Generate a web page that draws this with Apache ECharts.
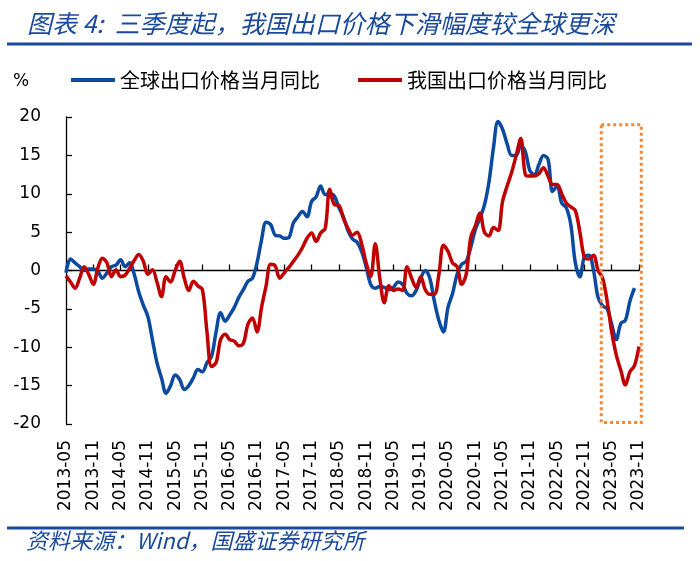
<!DOCTYPE html>
<html>
<head>
<meta charset="utf-8">
<script src="https://cdn.jsdelivr.net/npm/echarts@6/dist/echarts.min.js"></script>
<style>
html,body{margin:0;padding:0;background:#fff;}
#chart{width:700px;height:561px;}
</style>
</head>
<body>
<div id="chart"></div>
<script>
// ---- data ----
var startYear = 2013, startMonth = 5, monthCount = 127;
var categories = [];
for (var i = 0; i < monthCount; i++) {
  var mm = startMonth - 1 + i;
  var y = startYear + Math.floor(mm / 12);
  var m = (mm % 12) + 1;
  categories.push(y + '-' + (m < 10 ? '0' + m : m));
}
var seriesNames = ['全球出口价格当月同比', '我国出口价格当月同比'];
var globalYoY = [
  -0.3, 1.5, 1.0, 0.5, 0.0, 0.2, 0.2, -0.1, -1.0, -0.3, 0.5, 0.7,
  1.4, 0.5, 1.0, -0.5, -2.8, -4.5, -6.0, -9.0, -12.0, -14.0, -16.0, -15.0,
  -13.6, -14.2, -15.5, -15.0, -14.0, -12.9, -13.2, -12.0, -11.2, -8.0, -5.5, -6.6,
  -5.8, -4.8, -3.5, -2.5, -1.4, -1.0, 1.0, 4.0, 6.3, 6.0, 4.6, 4.5,
  4.2, 4.3, 6.2, 7.0, 7.7, 7.0, 9.0, 9.6, 11.0, 9.9, 10.0, 9.7,
  8.2, 7.0, 5.2, 4.1, 3.7, 2.5, 0.5, -1.8, -2.3, -2.1, -2.2, -2.5,
  -2.2, -1.5, -1.8, -3.0, -3.3, -2.6, -1.0, 0.0, -1.0, -4.0, -6.5, -8.0,
  -4.8, -3.0, -0.5, 0.8, 1.2, 3.0, 5.3, 6.8, 8.5, 11.5, 16.0, 19.4,
  18.4, 16.5, 15.0, 15.0, 16.3, 15.5, 13.0, 12.5, 13.8, 15.0, 14.5, 10.3,
  11.0, 8.8, 8.2, 6.0, 1.0, -0.8, 1.8, 2.0, 0.0, -3.5, -4.6, -5.0,
  -7.0, -9.0, -6.9, -6.5, -4.0, -2.3
];
var chinaYoY = [
  -0.7, -1.5, -2.3, -1.0, 0.5, -0.5, -1.8, 0.3, 1.6, 1.0, -0.8, 0.1,
  -0.8, -0.6, 0.3, 1.3, 2.1, 1.2, -0.5, 0.1, -1.5, -3.4, -0.8, -1.5,
  0.0, 1.2, -1.0, -2.6, -1.4, -2.0, -2.5, -8.0, -12.5, -12.0, -9.0, -8.3,
  -9.0, -9.2, -9.8, -9.5, -7.0, -6.2, -8.0, -4.8, -2.0, 0.8, 0.6, -1.0,
  -0.3, 0.4, 1.2, 2.0, 3.0, 4.2, 4.9, 3.8, 4.9, 5.5, 10.6, 8.6,
  8.5, 6.8, 5.5, 4.6, 5.0, 3.5, 1.0, -0.8, 3.5, -1.0, -4.2, -2.0,
  -2.6, -2.4, -2.6, 0.5, -1.0, -2.2, -0.8, -2.5, -3.1, -3.1, -0.5, 3.3,
  2.5, 1.0, 0.5, -1.8, -0.5, 4.3, 5.8, 7.5, 5.0, 4.5, 5.6, 5.2,
  9.0, 11.0, 12.8, 15.0, 17.2, 12.5, 12.3, 12.3, 12.6, 13.4, 12.3, 11.2,
  11.2, 10.0, 8.8, 8.3, 7.8, 5.0, 1.7, 1.5, 2.0, 0.0, -1.0, -4.0,
  -8.0, -11.0, -13.0, -14.9, -13.2, -12.4, -9.9
];
var yTicks = {min: -20, max: 20, interval: 5};
// highlighted period box (category index range, value range)
var boxRange = {x0: 117.7, x1: 126.5, y0: 19.0, y1: -19.8};

// ---- chart ----
var BLUE = '#0B4A9F', RED = '#C00000', NAVY = '#1A4A9C';
var chart = echarts.init(document.getElementById('chart'), null, {renderer: 'canvas'});
var option = {
  backgroundColor: '#fff',
  animation: false,
  title: {
    text: '图表 4:  三季度起，我国出口价格下滑幅度较全球更深',
    left: 22, top: 6,
    textStyle: {fontFamily: 'Noto Sans CJK SC', fontSize: 25, fontStyle: 'italic', fontWeight: 'normal', color: NAVY}
  },
  legend: {
    left: 66, top: 65,
    icon: 'rect', itemWidth: 44, itemHeight: 4, itemGap: 38,
    textStyle: {fontFamily: 'Noto Sans CJK SC', fontSize: 20, color: '#000'},
    data: seriesNames
  },
  grid: {left: 66, right: 61, top: 117, bottom: 137, containLabel: false},
  xAxis: [{
    type: 'category', data: categories, boundaryGap: false,
    axisLine: {show: false, onZero: false},
    axisTick: {show: false},
    axisLabel: {interval: 5, rotate: 90, margin: 16, fontFamily: 'DejaVu Sans', fontSize: 17, color: '#000'},
    splitLine: {show: false}
  }, {
    type: 'category', data: categories, boundaryGap: false, position: 'bottom',
    axisLine: {show: true, onZero: true, onZeroAxisIndex: 0, lineStyle: {color: '#000', width: 1.3}},
    axisTick: {show: true, inside: true, length: 6, interval: 5, lineStyle: {color: '#000', width: 1.3}},
    axisLabel: {show: false},
    splitLine: {show: false}
  }],
  yAxis: {
    type: 'value', min: yTicks.min, max: yTicks.max, interval: yTicks.interval,
    axisLine: {show: true, onZero: false, lineStyle: {color: '#000', width: 1.3}},
    axisTick: {show: true, inside: true, length: 6, lineStyle: {color: '#000', width: 1.3}},
    axisLabel: {margin: 25, fontFamily: 'DejaVu Sans', fontSize: 17, color: '#000'},
    splitLine: {show: false}
  },
  series: [{
    name: seriesNames[0], type: 'line', data: globalYoY, xAxisIndex: 0, yAxisIndex: 0,
    smooth: 0.35, symbol: 'none', lineStyle: {color: BLUE, width: 3.5}, itemStyle: {color: BLUE}, z: 3
  }, {
    name: seriesNames[1], type: 'line', data: chinaYoY, xAxisIndex: 0, yAxisIndex: 0,
    smooth: 0.35, symbol: 'none', lineStyle: {color: RED, width: 3.5}, itemStyle: {color: RED}, z: 4
  }],
  graphic: [
    {type: 'line', shape: {x1: 7, y1: 44, x2: 692, y2: 44}, style: {stroke: NAVY, lineWidth: 3}},
    {type: 'line', shape: {x1: 7, y1: 528, x2: 684, y2: 528}, style: {stroke: NAVY, lineWidth: 3}},
    {type: 'text', left: 13, top: 73, style: {text: '%', fontFamily: 'DejaVu Sans', fontSize: 17, fill: '#000'}},
    {type: 'text', left: 26, top: 530, style: {text: '资料来源：Wind，国盛证券研究所', fontFamily: 'Noto Sans CJK SC', fontSize: 22, fontStyle: 'italic', fill: NAVY}}
  ]
};
chart.setOption(option);

// highlight box from data coordinates
var p0 = chart.convertToPixel({xAxisIndex: 0, yAxisIndex: 0}, [0, boxRange.y0]);
var pN = chart.convertToPixel({xAxisIndex: 0, yAxisIndex: 0}, [categories.length - 1, boxRange.y1]);
var step = (pN[0] - p0[0]) / (categories.length - 1);
var bx0 = p0[0] + step * boxRange.x0, bx1 = p0[0] + step * boxRange.x1;
chart.setOption({
  graphic: option.graphic.concat([{
    type: 'rect', z: 10,
    shape: {x: bx0, y: p0[1], width: bx1 - bx0, height: pN[1] - p0[1]},
    style: {fill: 'none', stroke: '#F0883A', lineWidth: 3, lineDash: [3, 3]}
  }])
});
</script>
</body>
</html>
